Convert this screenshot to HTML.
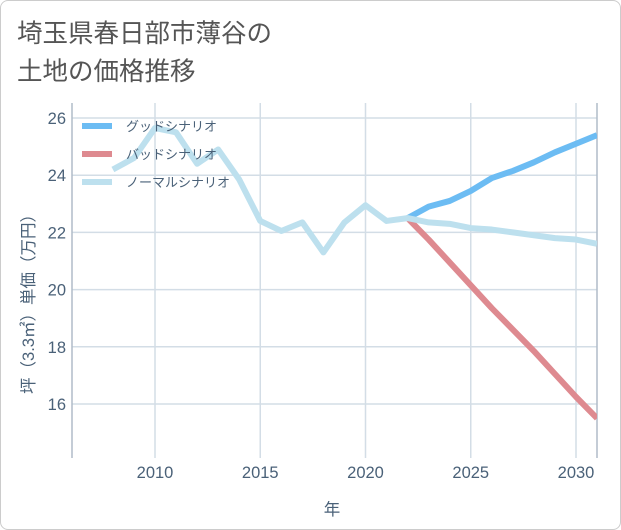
<!DOCTYPE html>
<html><head><meta charset="utf-8"><style>
body{margin:0;background:#fff;font-family:"Liberation Sans","Noto Sans CJK JP",sans-serif}
.wrap{position:relative;width:619px;height:528px;border:1px solid #ccc;border-radius:8px;overflow:hidden;background:#fff}
.title{position:absolute;left:16px;top:12px;font-size:25.5px;line-height:38px;color:#555;font-family:"Noto Sans CJK JP",sans-serif}
</style></head><body>
<div class="wrap">
<div class="title">埼玉県春日部市薄谷の<br>土地の価格推移</div>
<svg id="c" width="621" height="530" style="position:absolute;left:-1px;top:-1px"></svg>
</div>
<script>
const years=[2008,2009,2010,2011,2012,2013,2014,2015,2016,2017,2018,2019,2020,2021,2022,2023,2024,2025,2026,2027,2028,2029,2030,2031];
const normal=[24.2,24.6,25.65,25.5,24.4,24.9,23.85,22.4,22.05,22.35,21.3,22.35,22.95,22.4,22.5,22.35,22.3,22.15,22.1,22.0,21.9,21.8,21.75,21.6];
const futureYears=[2022,2023,2024,2025,2026,2027,2028,2029,2030,2031];
const good=[22.5,22.9,23.1,23.45,23.9,24.15,24.45,24.8,25.1,25.4];
const bad=[22.5,21.75,20.95,20.15,19.35,18.6,17.85,17.05,16.25,15.5];
const xTicks=[2010,2015,2020,2025,2030];
const yTicks=[16,18,20,22,24,26];
const L=72,R=597,T=103,B=458;
const X=y=>155+(y-2010)*21.05;
const Y=v=>118+(26-v)*28.6;
const svg=document.getElementById('c');
const NS='http://www.w3.org/2000/svg';
function mk(t,a,p){const e=document.createElementNS(NS,t);for(const k in a)e.setAttribute(k,a[k]);(p||svg).appendChild(e);return e;}
const clip=mk('clipPath',{id:'pc'});mk('rect',{x:L,y:T,width:R-L,height:B-T},clip);
for(const t of xTicks){const g=mk('line',{x1:X(t),x2:X(t),y1:T,y2:B,stroke:'#d3dde6','stroke-width':1.5});

const tx=mk('text',{x:X(t),y:478,'text-anchor':'middle','font-size':16.5,fill:'#4a6178'});tx.textContent=t;
}
for(const t of yTicks){const g=mk('line',{x1:L,x2:R,y1:Y(t),y2:Y(t),stroke:'#d3dde6','stroke-width':1.5});

const tx=mk('text',{x:66,y:Y(t)+6,'text-anchor':'end','font-size':16.5,fill:'#4a6178'});tx.textContent=t;
}
const ax=mk('path',{d:`M${L},${T}V${B}M${R},${T}V${B}`,stroke:'#b0bcc8','stroke-width':1.5,fill:'none'});

function line(xs,vs,c,name){const p=mk('polyline',{points:xs.map((x,i)=>X(x)+','+Y(vs[i])).join(' '),fill:'none',stroke:c,'stroke-width':6,'stroke-linejoin':'round','clip-path':'url(#pc)'});
}
line(futureYears,bad,'#de8a90','bad-scenario-line');
line(futureYears,good,'#6cbcf3','good-scenario-line');
line(years,normal,'#bde0ee','normal-scenario-line');
const leg=[['グッドシナリオ','#6cbcf3'],['バッドシナリオ','#de8a90'],['ノーマルシナリオ','#bde0ee']];
leg.forEach((l,i)=>{const y=126+i*28;
const s=mk('line',{x1:82,x2:112,y1:y,y2:y,stroke:l[1],'stroke-width':6});

const t=mk('text',{x:126,y:y+5,'font-size':13,fill:'#4a6178'});t.textContent=l[0];
});
const xt=mk('text',{x:332,y:515,'text-anchor':'middle','font-size':16.5,fill:'#4a6178'});xt.textContent='年';

const yt=mk('text',{x:0,y:0,'text-anchor':'middle','font-size':16.5,fill:'#4a6178',transform:'translate(34,300) rotate(-90)'});yt.textContent='坪（3.3㎡）単価（万円）';

</script>
</body></html>
